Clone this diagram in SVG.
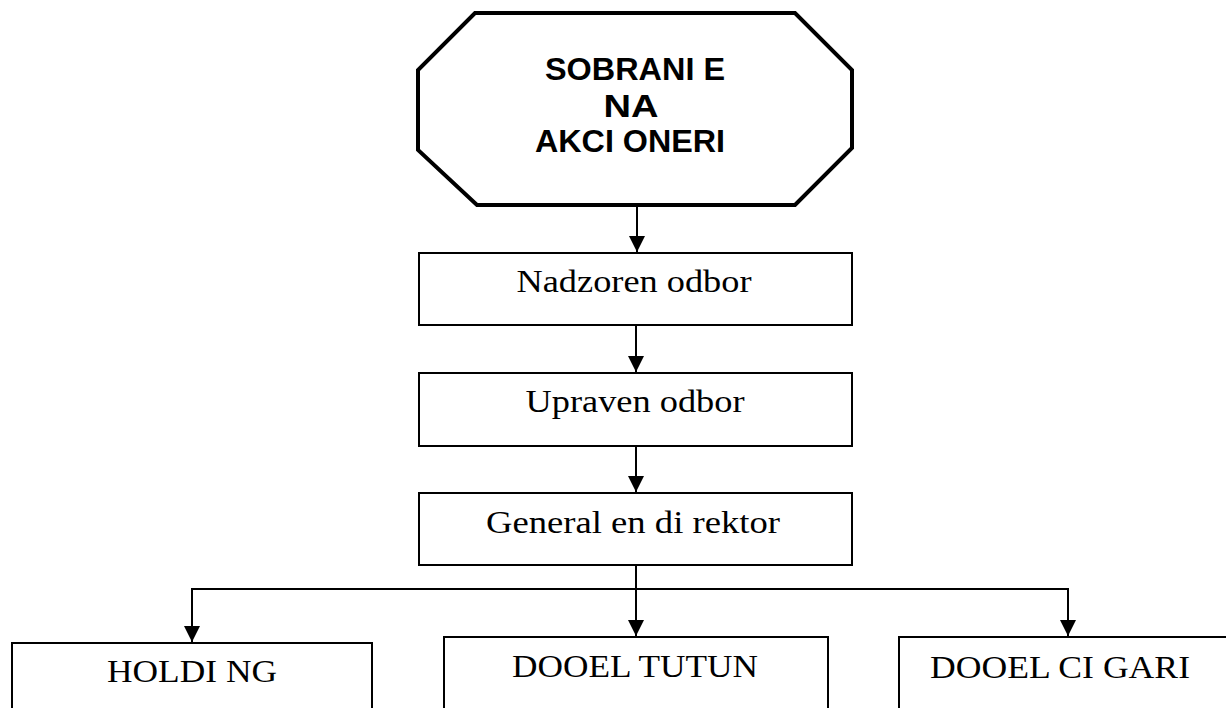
<svg xmlns="http://www.w3.org/2000/svg" width="1226" height="708" viewBox="0 0 1226 708">
<style>
.box{fill:#fff;stroke:#000;stroke-width:2}
.oct{fill:#fff;stroke:#000;stroke-width:4;stroke-linejoin:miter}
.con{fill:none;stroke:#000;stroke-width:2}
.s{font-family:"Liberation Serif","Times New Roman",serif;font-size:32px;fill:#000;text-anchor:middle}
.b{font-family:"Liberation Sans",Arial,sans-serif;font-weight:bold;font-size:31px;fill:#000;text-anchor:middle}
</style>
<defs>
<marker id="ah" markerUnits="userSpaceOnUse" markerWidth="16" markerHeight="16" viewBox="0 0 16 16" refX="8" refY="16" orient="0">
<path d="M0,0 L16,0 L8,16 Z" fill="#000"/>
</marker>
</defs>
<g id="connectors">
<line class="con" x1="637" y1="206" x2="637" y2="252" marker-end="url(#ah)"/>
<line class="con" x1="636" y1="325" x2="636" y2="372" marker-end="url(#ah)"/>
<line class="con" x1="636" y1="446" x2="636" y2="492" marker-end="url(#ah)"/>
<line class="con" x1="636" y1="565" x2="636" y2="636" marker-end="url(#ah)"/>
<polyline class="con" points="192,642 192,589 1068,589 1068,636" marker-start="url(#ah)" marker-end="url(#ah)"/>
</g>
<g id="sobranie">
<polygon class="oct" points="475,13 795,13 852,70 852,148 795,205 477,205 418,150 418,70"/>
<text class="b" x="635" y="80" textLength="180" lengthAdjust="spacingAndGlyphs">SOBRANI E</text>
<text class="b" x="631" y="117" textLength="55" lengthAdjust="spacingAndGlyphs">NA</text>
<text class="b" x="630" y="152" textLength="190" lengthAdjust="spacingAndGlyphs">AKCI ONERI</text>
</g>
<g id="nadzoren">
<rect class="box" x="419" y="253" width="433" height="72"/>
<text class="s" x="634" y="292" textLength="235" lengthAdjust="spacingAndGlyphs">Nadzoren odbor</text>
</g>
<g id="upraven">
<rect class="box" x="419" y="373" width="433" height="73"/>
<text class="s" x="635" y="412" textLength="219" lengthAdjust="spacingAndGlyphs">Upraven odbor</text>
</g>
<g id="general">
<rect class="box" x="419" y="493" width="433" height="72"/>
<text class="s" x="633" y="533" textLength="294" lengthAdjust="spacingAndGlyphs">General en di rektor</text>
</g>
<g id="holding">
<rect class="box" x="12" y="643" width="360" height="80"/>
<text class="s" x="192" y="682" textLength="170" lengthAdjust="spacingAndGlyphs">HOLDI NG</text>
</g>
<g id="tutun">
<rect class="box" x="444" y="637" width="384" height="90"/>
<text class="s" x="635" y="677" textLength="246" lengthAdjust="spacingAndGlyphs">DOOEL TUTUN</text>
</g>
<g id="cigari">
<rect class="box" x="899" y="637" width="340" height="90"/>
<text class="s" x="1060" y="678" textLength="260" lengthAdjust="spacingAndGlyphs">DOOEL CI GARI</text>
</g>
</svg>
